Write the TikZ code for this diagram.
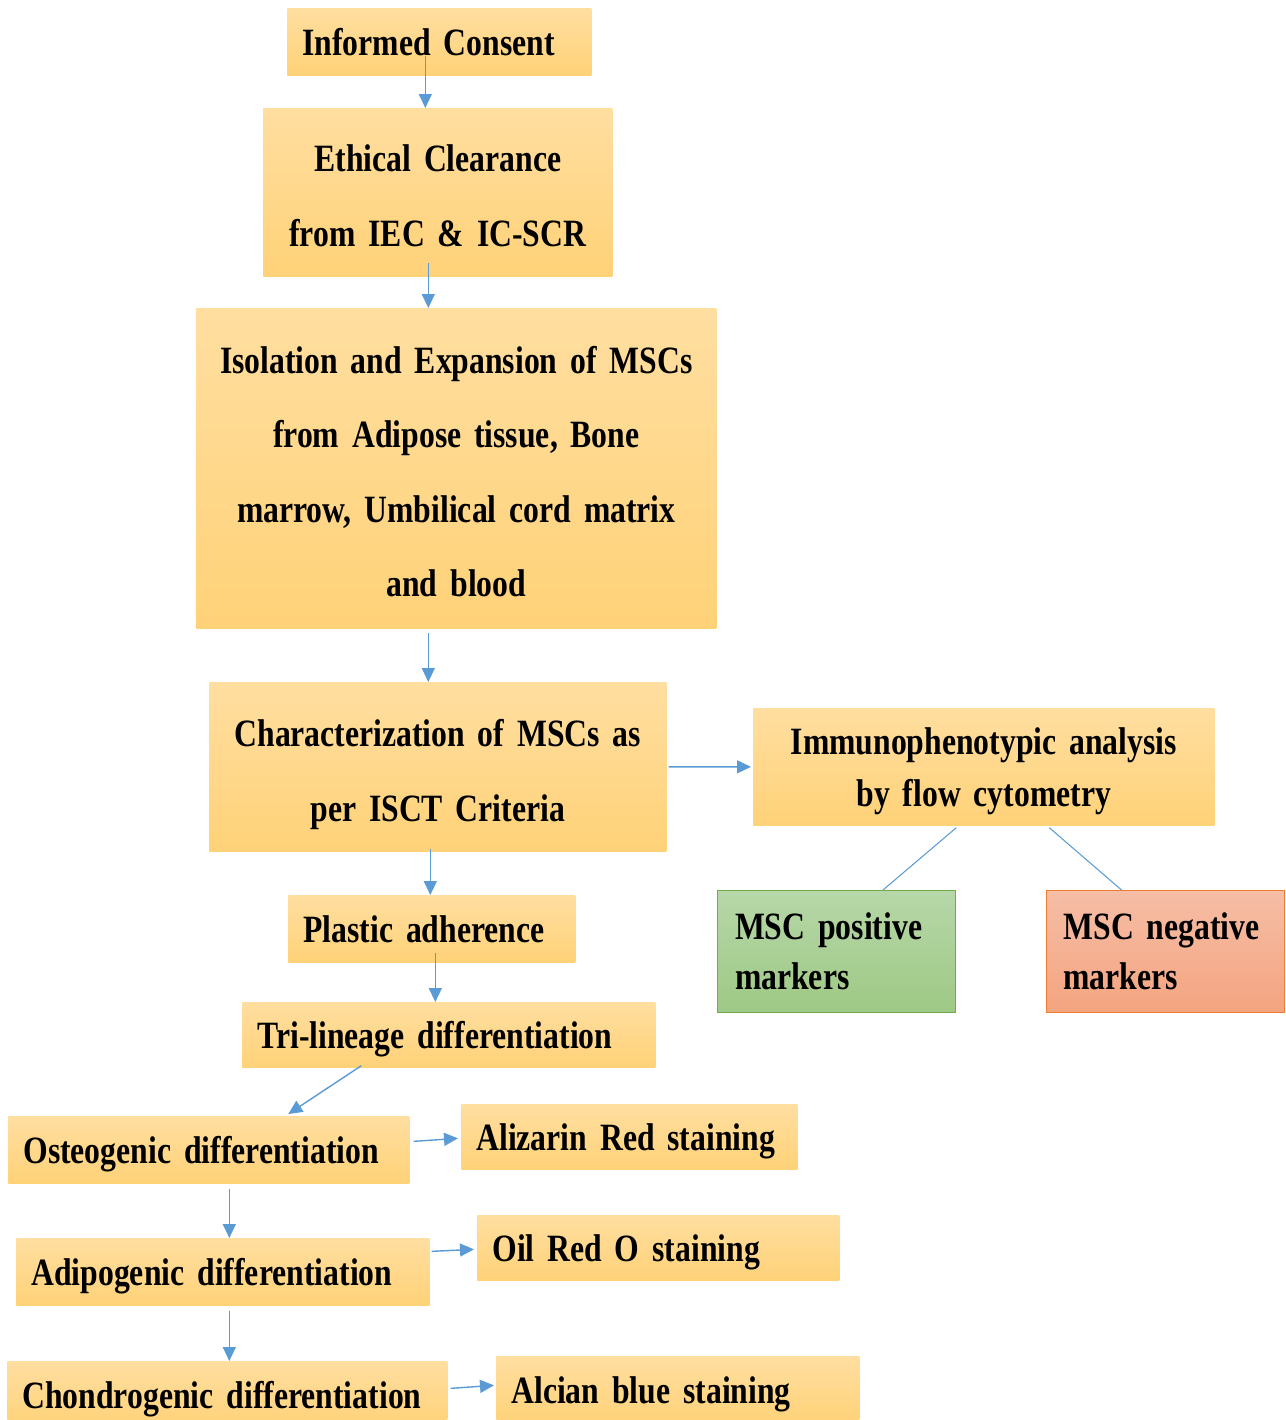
\documentclass[tikz,border=0pt]{standalone}
\usepackage{fontspec}
\setmainfont{Liberation Serif}[FakeStretch=0.82]
\usepackage{tikz}
\usetikzlibrary{arrows.meta}

\definecolor{boxtop}{RGB}{255,222,160}
\definecolor{boxbot}{RGB}{255,210,120}
\definecolor{linkblue}{RGB}{91,155,213}
\definecolor{postop}{RGB}{183,215,168}
\definecolor{posbot}{RGB}{158,201,133}
\definecolor{posedge}{RGB}{112,173,71}
\definecolor{negtop}{RGB}{246,190,166}
\definecolor{negbot}{RGB}{244,164,128}
\definecolor{negedge}{RGB}{237,125,49}

\tikzset{
    stage/.style={anchor=north west, top color=boxtop, bottom color=boxbot,
        inner xsep=0.3cm, inner ysep=0pt, align=left,
        text height=15pt, text depth=0pt,
        font=\fontsize{22}{42.5}\selectfont\bfseries},
    marker/.style={stage, inner xsep=0.35cm, line width=0.6pt, text depth=28.3pt,
        font=\fontsize{22}{28.4}\selectfont\bfseries},
    link/.style={linkblue, line width=0.8pt, -{Triangle[length=0.28cm,width=0.26cm]}},
    branch/.style={linkblue, line width=0.6pt}
}

\begin{document}
\begin{tikzpicture}[x=0.02cm, y=-0.02cm]
    \useasboundingbox (0,0) rectangle (1285,1420);

    % main column
    \node[stage, text width=5.48cm, minimum height=1.34cm] (consent) at (287,8) {Informed Consent};
    \node[stage, align=center, text width=6.38cm, minimum height=3.36cm, text depth=38.8pt,
        font=\fontsize{22}{43}\selectfont\bfseries] (ethics) at (263,108)
        {Ethical Clearance\\from IEC \& IC-SCR};
    \node[stage, align=center, text width=9.80cm, minimum height=6.40cm, text depth=123pt,
        font=\fontsize{22}{42.3}\selectfont\bfseries] (isolation) at (196,308)
        {Isolation and Expansion of MSCs\\from Adipose tissue, Bone\\marrow, Umbilical cord matrix\\and blood};
    \node[stage, align=center, text width=8.54cm, minimum height=3.38cm, text depth=37.7pt] (charac) at (209,682)
        {Characterization of MSCs as\\per ISCT Criteria};
    \node[stage, text width=5.14cm, minimum height=1.34cm] (plastic) at (288,895) {Plastic adherence};
    \node[stage, text width=7.66cm, minimum height=1.30cm] (trilineage) at (242,1002) {Tri-lineage differentiation};

    % flow cytometry branch
    \node[stage, align=center, text width=8.62cm, minimum height=2.34cm, text depth=28.8pt,
        font=\fontsize{22}{29.3}\selectfont\bfseries] (immuno) at (753,708)
        {Immunophenotypic analysis\\by flow cytometry};
    \node[marker, top color=postop, bottom color=posbot, draw=posedge,
        text width=4.06cm, minimum height=2.44cm] (positive) at (717,890) {MSC positive\\markers};
    \node[marker, top color=negtop, bottom color=negbot, draw=negedge, inner xsep=0.34cm,
        text width=4.08cm, minimum height=2.44cm] (negative) at (1046,890) {MSC negative\\markers};

    % lineages and stainings
    \node[stage, text width=7.42cm, minimum height=1.34cm] (osteo) at (8,1116) {Osteogenic differentiation};
    \node[stage, text width=6.12cm, minimum height=1.30cm] (alizarin) at (461,1104) {Alizarin Red staining};
    \node[stage, text width=7.66cm, minimum height=1.34cm] (adipo) at (16,1238) {Adipogenic differentiation};
    \node[stage, text width=6.64cm, minimum height=1.30cm] (oilred) at (477,1215) {Oil Red O staining};
    \node[stage, text width=8.20cm, minimum height=1.36cm] (chondro) at (7,1361) {Chondrogenic differentiation};
    \node[stage, text width=6.66cm, minimum height=1.36cm] (alcian) at (496,1356) {Alcian blue staining};

    % arrows down the main column
    \draw[link] ([xshift=-0.28cm,yshift=0.4cm]consent.south) -- ([xshift=-0.28cm]consent.south |- ethics.north);
    \draw[link] ([xshift=-0.19cm,yshift=0.28cm]ethics.south) -- ([xshift=-0.19cm]ethics.south |- isolation.north);
    \draw[link] ([xshift=-0.56cm,yshift=-0.08cm]isolation.south) -- ([xshift=-0.56cm]isolation.south |- charac.north);
    \draw[link] ([xshift=0.04cm]charac.east) -- ([xshift=-0.04cm]immuno.west);
    \draw[link] ([xshift=-0.15cm,yshift=0.06cm]charac.south) -- ([xshift=-0.15cm]charac.south |- plastic.north);
    \draw[link] ([xshift=0.07cm,yshift=0.2cm]plastic.south) -- ([xshift=0.07cm]plastic.south |- trilineage.north);

    % marker branches
    \draw[branch] ([xshift=-0.55cm,yshift=-0.04cm]immuno.south) -- ([xshift=0.93cm]positive.north);
    \draw[branch] ([xshift=1.31cm,yshift=-0.04cm]immuno.south) -- ([xshift=-0.88cm]negative.north);

    % differentiation steps
    \draw[link] ([xshift=-1.75cm,yshift=0.04cm]trilineage.south) -- ([xshift=1.59cm,yshift=0.04cm]osteo.north);
    \draw[link] ([xshift=0.08cm,yshift=0.17cm]osteo.east) -- ([xshift=-0.06cm,yshift=-0.03cm]alizarin.west);
    \draw[link] ([xshift=0.41cm,yshift=-0.1cm]osteo.south) -- ([xshift=0.41cm]osteo.south |- adipo.north);
    \draw[link] ([xshift=0.04cm,yshift=0.41cm]adipo.east) -- ([xshift=-0.06cm,yshift=-0.03cm]oilred.west);
    \draw[link] ([xshift=0.13cm,yshift=-0.1cm]adipo.south) -- ([xshift=0.13cm]adipo.south |- chondro.north);
    \draw[link] ([xshift=0.06cm,yshift=0.14cm]chondro.east) -- ([xshift=-0.04cm,yshift=0.1cm]alcian.west);
\end{tikzpicture}
\end{document}
